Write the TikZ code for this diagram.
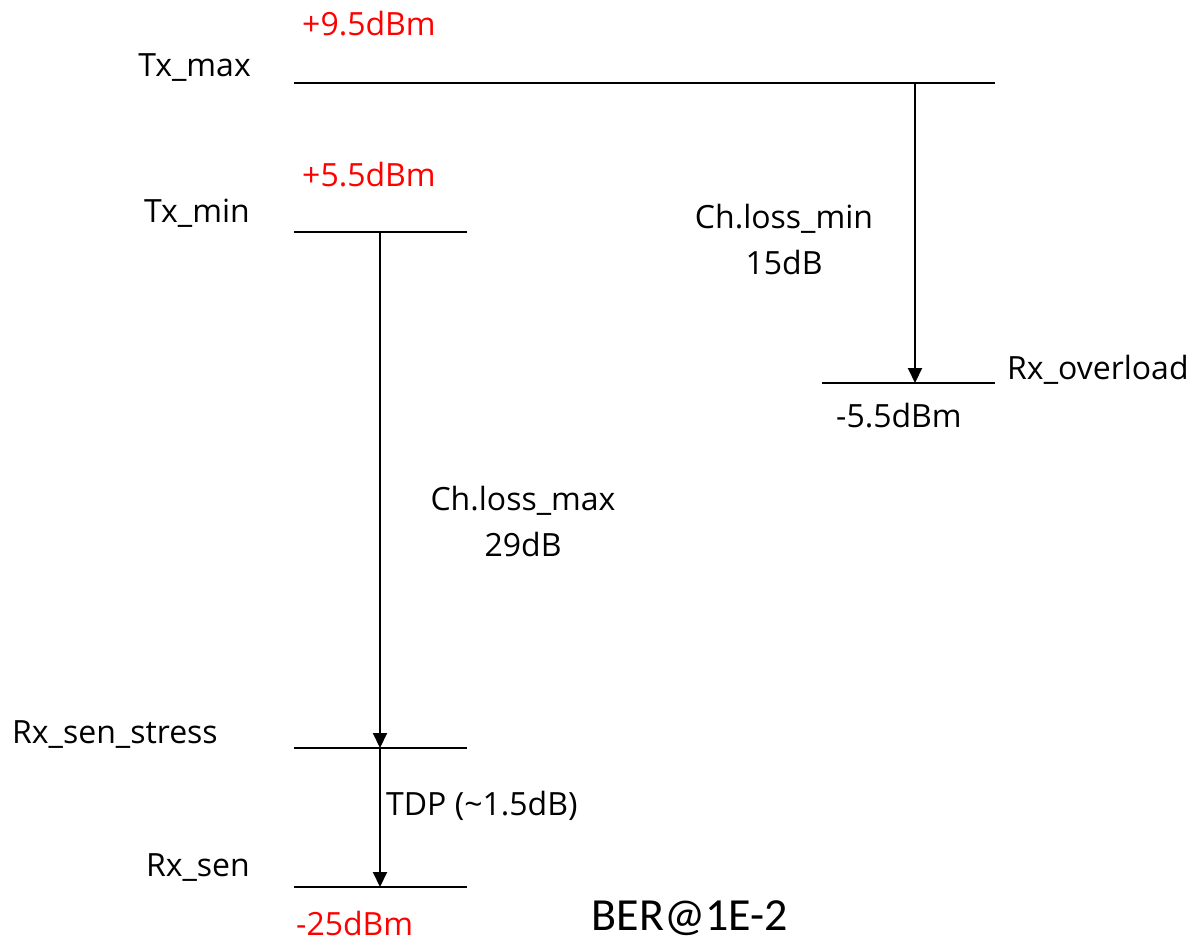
\documentclass[tikz,border=0pt]{standalone}
\usepackage{fontspec}
\setmainfont{Open Sans}
\newfontfamily\berfont{Carlito}
\usetikzlibrary{arrows.meta}
\begin{document}
\begin{tikzpicture}[x=1pt,y=-1pt,
  lvl/.style={line width=2.5pt},
  conn/.style={line width=2pt,-{Triangle[length=15pt,width=14pt]}},
  lbl/.style={inner sep=0pt,font=\fontsize{32}{38}\selectfont},
  red lbl/.style={lbl,text=red},
  stack/.style={lbl,align=center}]
\useasboundingbox (0,0) rectangle (1192,943);
% level lines
\coordinate (txmaxL) at (294,83);   \coordinate (txmaxR) at (995,83);
\coordinate (txminL) at (294,232);  \coordinate (txminR) at (467,232);
\coordinate (ovlL) at (822,383);    \coordinate (ovlR) at (995,383);
\coordinate (stressL) at (294,748); \coordinate (stressR) at (467,748);
\coordinate (senL) at (294,887);    \coordinate (senR) at (467,887);
\draw[lvl] (txmaxL) -- (txmaxR);
\draw[lvl] (txminL) -- (txminR);
\draw[lvl] (ovlL) -- (ovlR);
\draw[lvl] (stressL) -- (stressR);
\draw[lvl] (senL) -- (senR);
% arrow anchors
\coordinate (a1s) at (915,83);  \coordinate (a1e) at (915,383);
\coordinate (a2s) at (380,232); \coordinate (a2e) at (380,748);
\coordinate (a3s) at (380,748); \coordinate (a3e) at (380,887);
\draw[conn] (a1s) -- (a1e);
\draw[conn] (a2s) -- (a2e);
\draw[conn] (a3s) -- (a3e);
% labels
\node[red lbl,anchor=west] (p95) at (302,24) {+9.5dBm};
\node[lbl,anchor=east] (txmax) at (251,68) {Tx\_max};
\node[red lbl,anchor=west] (p55) at (302,175) {+5.5dBm};
\node[lbl,anchor=east] (txmin) at (250,213) {Tx\_min};
\node[stack] (chmin) at (784,239) {Ch.loss\_min\\[8pt]15dB};
\node[lbl,anchor=west] (rxovl) at (1007,370) {Rx\_overload};
\node[lbl,anchor=west] (m55) at (836,416) {-5.5dBm};
\node[stack] (chmax) at (523,521) {Ch.loss\_max\\[8pt]29dB};
\node[lbl,anchor=west] (rxstress) at (12,735) {Rx\_sen\_stress};
\node[lbl,anchor=west] (tdp) at (386,806) {TDP (\textasciitilde1.5dB)};
\node[lbl,anchor=east] (rxsen) at (250,868) {Rx\_sen};
\node[red lbl,anchor=west] (m25) at (296,923) {-25dBm};
\node[inner sep=0pt,anchor=base,font=\berfont\fontsize{46}{52}\selectfont] (ber) at (690,930) {BER@1E-2};
\end{tikzpicture}
\end{document}
